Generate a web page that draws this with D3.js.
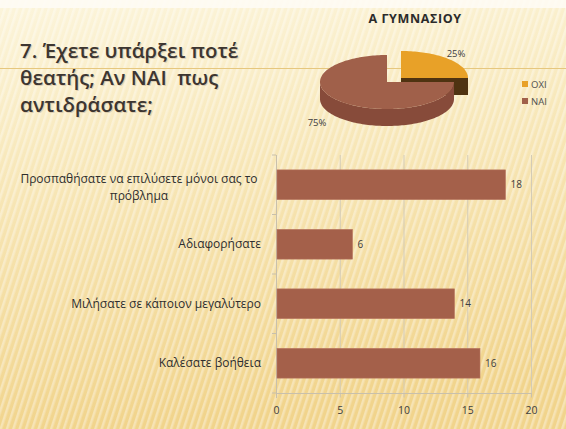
<!DOCTYPE html>
<html><head><meta charset="utf-8">
<script src="https://cdn.jsdelivr.net/npm/d3@7"></script>
<style>html,body{margin:0;padding:0;background:#fff;}svg{display:block;}text{white-space:pre;}</style>
</head><body>
<script>
// ---- data ----
const titleLines = ["7. Έχετε υπάρξει ποτέ", "θεατής; Αν ΝΑΙ  πως", "αντιδράσατε;"];
const pieTitle = "Α ΓΥΜΝΑΣΙΟΥ";
const pieLabels = ["ΟΧΙ", "ΝΑΙ"];
const pieValues = [25, 75];
const categories = [
  ["Προσπαθήσατε να επιλύσετε μόνοι σας το", "πρόβλημα"],
  ["Αδιαφορήσατε"],
  ["Μιλήσατε σε κάποιον μεγαλύτερο"],
  ["Καλέσατε βοήθεια"]
];
const barValues = [18, 6, 14, 16];
const xTicks = [0, 5, 10, 15, 20];

const W = 566, H = 429;
const svg = d3.select("body").append("svg").attr("width", W).attr("height", H);
const defs = svg.append("defs");

// background
const bg = defs.append("linearGradient").attr("id", "bg").attr("x1", 0).attr("y1", 0).attr("x2", 0.15).attr("y2", 1);
bg.append("stop").attr("offset", "0").attr("stop-color", "#fcf5dc");
bg.append("stop").attr("offset", "0.35").attr("stop-color", "#f8e9bd");
bg.append("stop").attr("offset", "1").attr("stop-color", "#f1d48c");
const pat = defs.append("pattern").attr("id", "stripes").attr("width", 6).attr("height", 6)
  .attr("patternUnits", "userSpaceOnUse").attr("patternTransform", "rotate(18)");
pat.append("rect").attr("x", 0).attr("y", 0).attr("width", 2.5).attr("height", 6).attr("fill", "#ffffff").attr("opacity", 0.35);

svg.append("rect").attr("width", W).attr("height", H).attr("fill", "url(#bg)");
svg.append("rect").attr("width", W).attr("height", H).attr("fill", "url(#stripes)");
svg.append("rect").attr("width", W).attr("height", 8).attr("fill", "#fefcf6").attr("opacity", 0.85);
svg.append("line").attr("x1", 0).attr("x2", W).attr("y1", 68.5).attr("y2", 68.5)
  .attr("stroke", "#e6c77e").attr("stroke-width", 1);

// title
const tg = svg.append("g");
titleLines.forEach((t, i) => {
  tg.append("text").attr("x", 21).attr("y", 58 + i * 27 + 1)
    .attr("font-family", "Open Sans").attr("font-size", 20.5).attr("font-weight", 600)
    .attr("fill", "#c9b9a0").attr("opacity", 0.6).text(t);
  tg.append("text").attr("x", 20).attr("y", 58 + i * 27)
    .attr("font-family", "Open Sans").attr("font-size", 20.5).attr("font-weight", 600)
    .attr("fill", "#3d3631").text(t);
});

// ---- 3D pie ----
svg.append("text").attr("x", 415).attr("y", 23).attr("text-anchor", "middle")
  .attr("font-family", "Open Sans").attr("font-weight", 700).attr("font-size", 12.5)
  .attr("letter-spacing", 0.6).attr("fill", "#2b2b2b").text(pieTitle);

const pieArcs = d3.pie().sort(null).value(d => d)(pieValues);
const topCols = ["#e8a128", "#a0604a"];
const sideCols = ["#4f3311", "#874b3a"];
const centers = [[401, 78], [387, 82]];
const rx = 67, ry = 27, depth = 17;
function pt(c, a, dy) { return [c[0] + rx * Math.sin(a), c[1] - ry * Math.cos(a) + (dy || 0)]; }
function arcPts(c, a0, a1, dy) {
  const n = Math.max(2, Math.ceil(Math.abs(a1 - a0) / 0.03));
  return d3.range(n + 1).map(i => pt(c, a0 + (a1 - a0) * i / n, dy));
}
const line = d3.line();
const pg = svg.append("g");
[0, 1].forEach(i => {
  const a = pieArcs[i], c = centers[i];
  const endA = a.endAngle;
  if (Math.sin(endA) > 0.01 && Math.cos(endA) < 0.99) {
    const p = pt(c, endA);
    pg.append("path").attr("d", line([c, p, [p[0], p[1] + depth], [c[0], c[1] + depth]]) + "Z")
      .attr("fill", sideCols[i]);
  }
  const v0 = Math.max(a.startAngle, Math.PI / 2), v1 = Math.min(a.endAngle, 3 * Math.PI / 2);
  if (v1 > v0) {
    const top = arcPts(c, v0, v1, 0), bot = arcPts(c, v1, v0, depth);
    pg.append("path").attr("d", line(top.concat(bot)) + "Z").attr("fill", sideCols[i]);
  }
  pg.append("path").attr("d", line([c].concat(arcPts(c, a.startAngle, a.endAngle, 0))) + "Z")
    .attr("fill", topCols[i]);
});
const pctPos = [[456, 57], [317, 126]];
pieArcs.forEach((a, i) => {
  svg.append("text").attr("x", pctPos[i][0]).attr("y", pctPos[i][1]).attr("text-anchor", "middle")
    .attr("font-family", "Open Sans").attr("font-size", 9.5).attr("fill", "#404040")
    .text(Math.round(a.value / d3.sum(pieValues) * 100) + "%");
});
pieLabels.forEach((l, i) => {
  const y = 84 + i * 17;
  svg.append("rect").attr("x", 522).attr("y", y - 3).attr("width", 6).attr("height", 6).attr("fill", topCols[i]);
  svg.append("text").attr("x", 531).attr("y", y + 3.5).attr("font-family", "Open Sans")
    .attr("font-size", 9.5).attr("fill", "#505050").text(l);
});

// ---- bar chart ----
const x = d3.scaleLinear().domain([0, 20]).range([276, 531]);
const y = d3.scaleBand().domain(d3.range(categories.length)).range([155, 393]).paddingInner(0.5).paddingOuter(0.25);
const bgp = svg.append("g");
bgp.selectAll("line.grid").data(xTicks.slice(1)).enter().append("line")
  .attr("x1", d => x(d) + 0.5).attr("x2", d => x(d) + 0.5).attr("y1", 155).attr("y2", 393)
  .attr("stroke", "#d3cbb6").attr("stroke-width", 1);
bgp.append("line").attr("x1", x(0) + 0.5).attr("x2", x(0) + 0.5).attr("y1", 155).attr("y2", 398).attr("stroke", "#c8c0ac");
bgp.append("line").attr("x1", x(0)).attr("x2", x(20) + 1).attr("y1", 393.5).attr("y2", 393.5).attr("stroke", "#c8c0ac");
d3.range(categories.length + 1).forEach(i => {
  const yy = 155 + i * (238 / categories.length);
  bgp.append("line").attr("x1", x(0) - 4).attr("x2", x(0)).attr("y1", yy).attr("y2", yy).attr("stroke", "#c8c0ac");
});
const xAxis = d3.axisBottom(x).tickValues(xTicks).tickSize(4).tickPadding(9);
const ax = bgp.append("g").attr("transform", "translate(0,393.5)").call(xAxis);
ax.select(".domain").remove();
ax.selectAll("line").attr("stroke", "#c8c0ac");
ax.selectAll("text").attr("font-family", "Open Sans").attr("font-size", 10.5).attr("fill", "#404040");

bgp.selectAll("rect.bar").data(barValues).enter().append("rect")
  .attr("x", x(0) + 1).attr("y", (d, i) => y(i)).attr("width", d => x(d) - x(0) - 1)
  .attr("height", y.bandwidth()).attr("fill", "#a4604a").attr("stroke", "#b9775f").attr("stroke-width", 0.6);
bgp.selectAll("text.val").data(barValues).enter().append("text")
  .attr("x", d => x(d) + 5).attr("y", (d, i) => y(i) + y.bandwidth() / 2 + 3.5)
  .attr("font-family", "Open Sans").attr("font-size", 10).attr("fill", "#404040").text(d => d);
categories.forEach((lines, i) => {
  const cy = y(i) + y.bandwidth() / 2;
  const multi = lines.length > 1;
  const t = bgp.append("text").attr("font-family", "Open Sans").attr("font-size", 12).attr("fill", "#2e2e2e")
    .attr("text-anchor", multi ? "middle" : "end");
  lines.forEach((l, j) => {
    const yy = cy + 4 + (multi ? 3 : 0) + (j - (lines.length - 1) / 2) * 17;
    t.append("tspan").attr("x", multi ? 139 : 261).attr("y", yy).text(l);
  });
});
</script>
</body></html>
